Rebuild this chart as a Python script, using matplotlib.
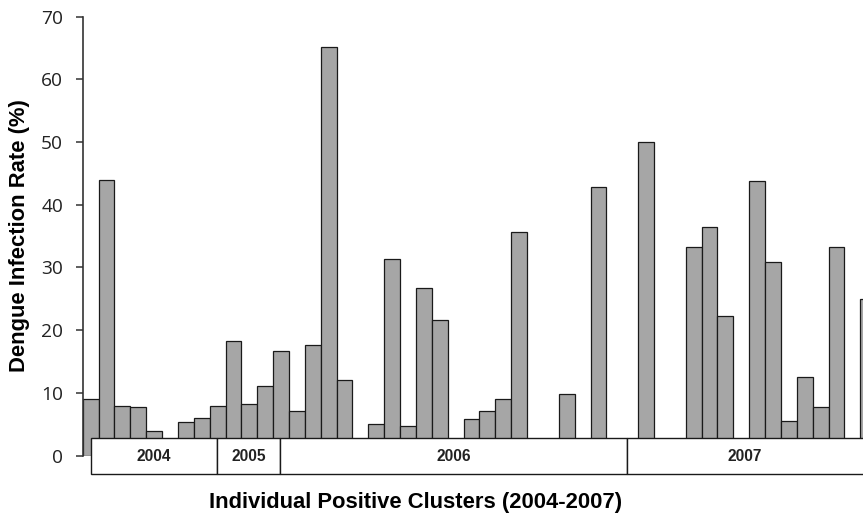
import matplotlib.pyplot as plt
from matplotlib.patches import Rectangle

# infection rate (%) per positive cluster, left to right
rates = [9.1, 44.0, 7.9, 7.7, 4.0, 0, 5.3, 6.0, 7.9, 18.2,
         8.3, 11.1, 16.7, 7.1, 17.6, 65.2, 12.0, 0, 5.0, 31.3,
         4.7, 26.7, 21.6, 0, 5.9, 7.1, 9.1, 35.7, 0, 0,
         9.9, 0, 42.8, 0, 0, 50.0, 0, 0, 33.3, 36.4,
         22.2, 0, 43.8, 30.8, 5.5, 12.5, 7.7, 33.3, 0, 25.0]
years = ['2004', '2005', '2006', '2007']
year_edges = [0.04, 7.95, 11.93, 33.78, 48.75]

fig = plt.figure(figsize=(8.63, 5.17), dpi=100)
ax = fig.add_axes([0.0958, 0.1188, 0.9042, 0.8489])

x = range(len(rates))
ax.bar(x, rates, width=1.0, color='#a6a6a6', edgecolor='#1a1a1a', linewidth=0.9, zorder=2)

ax.set_xlim(-0.5, 48.67)
ax.set_ylim(0, 70)
ax.set_yticks(range(0, 71, 10))
ax.set_xticks([])
for s in ['top', 'right', 'bottom']:
    ax.spines[s].set_visible(False)
ax.spines['left'].set_linewidth(1.2)
ax.spines['left'].set_color('#333333')
ax.tick_params(axis='y', direction='out', length=5, width=1.1, color='#333333',
               pad=9, labelsize=13.8, labelcolor='#222222')
for lab in ax.get_yticklabels():
    lab.set_fontfamily('Open Sans')

# year boxes under the bars
for i, yr in enumerate(years):
    x0, x1 = year_edges[i], year_edges[i + 1]
    ax.add_patch(Rectangle((x0, -2.98), x1 - x0, 5.71, facecolor='white',
                           edgecolor='#1a1a1a', linewidth=1.0, zorder=3, clip_on=False))
    xc = (x0 + min(x1, 48.67)) / 2
    ax.text(xc, -0.1, yr, ha='center', va='center', fontsize=11.2,
            fontweight='bold', family='Liberation Sans', color='#222222', zorder=4)

fig.text(20 / 863, 1 - 236 / 517, 'Dengue Infection Rate (%)', rotation=90, ha='center',
         va='center', fontsize=15.8, fontweight='bold', family='Liberation Sans')
fig.text(0.4817, 0.028, 'Individual Positive Clusters (2004-2007)', ha='center', va='center',
         fontsize=15.8, fontweight='bold', family='Liberation Sans')

fig.savefig('out.png', dpi=100)
